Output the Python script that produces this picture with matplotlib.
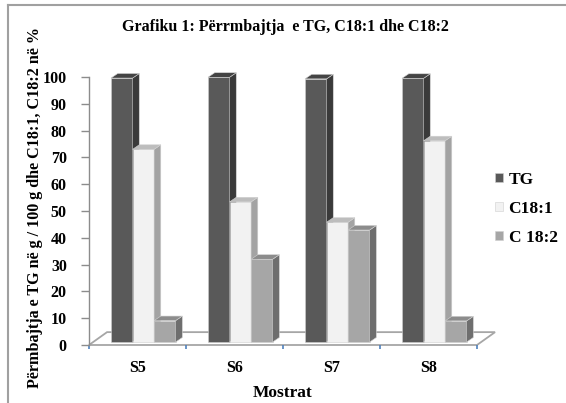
import matplotlib
matplotlib.use('Agg')
import matplotlib.pyplot as plt
from matplotlib.patches import Polygon
from matplotlib.lines import Line2D
import numpy as np

# Sample data (TG in g/100 g, fatty acids in %)
samples = ['S5', 'S6', 'S7', 'S8']
series = ['TG', 'C18:1', 'C 18:2']
tg = [99.6, 99.9, 99.3, 99.5]
c181 = [73.0, 53.4, 45.8, 76.2]
c182 = [9.1, 32.0, 42.9, 9.0]

# front / side / top shades for each series
front = ['#595959', '#f2f2f2', '#a6a6a6']
side = ['#3a3a3a', '#a3a3a3', '#6e6e6e']
top = ['#444444', '#bdbdbd', '#8c8c8c']

plt.rcParams['font.family'] = ['Liberation Serif', 'DejaVu Serif']
plt.rcParams['font.weight'] = 'bold'

W, H = 566, 403
fig = plt.figure(figsize=(W / 100, H / 100), dpi=100)
ax = fig.add_axes([89 / W, (H - 345) / H, 388 / W, 268 / H])
ax.set_xlim(-0.5, 3.5)
ax.set_ylim(0, 100)

base = 1.1
bw = 0.222
offs = [-0.162, 0.06, 0.282]
dx, dy = 0.069, 1.7   # column depth
fdx, fdy = 0.186, 4.8  # floor depth

# floor
floor = Polygon([(-0.5, 0), (-0.5 + fdx, fdy), (3.5 + fdx, fdy), (3.5, 0)],
                closed=True, facecolor='white', edgecolor='#a6a6a6', lw=1.3,
                clip_on=False, zorder=1)
ax.add_patch(floor)

x = np.arange(len(samples))
handles = []
for i in range(len(samples)):
    for j, vals in enumerate([tg, c181, c182]):
        v = vals[i]
        x0 = x[i] + offs[j] - bw / 2
        x1 = x0 + bw
        z = 3 + i * 10 + j * 3
        b = ax.bar(x[i] + offs[j], v - base, bw, bottom=base, color=front[j],
                   edgecolor='#d0d0d0', lw=0.4, zorder=z)
        if i == 0:
            handles.append(b)
        ax.add_patch(Polygon([(x1, base), (x1 + dx, base + dy), (x1 + dx, v + dy), (x1, v)],
                             closed=True, facecolor=side[j], edgecolor='#d0d0d0',
                             lw=0.4, zorder=z + 1, clip_on=False))
        ax.add_patch(Polygon([(x0, v), (x0 + dx, v + dy), (x1 + dx, v + dy), (x1, v)],
                             closed=True, facecolor=top[j], edgecolor='#d0d0d0',
                             lw=0.4, zorder=z + 2, clip_on=False))

for s in ['top', 'right', 'bottom']:
    ax.spines[s].set_visible(False)
ax.spines['left'].set_color('#8c8c8c')
ax.spines['left'].set_linewidth(1.0)

ax.set_yticks(np.arange(0, 101, 10))
ax.tick_params(axis='y', colors='#8c8c8c', length=6, width=1, pad=10,
               labelsize=11.5, labelcolor='black')

# category boundaries get the tick marks, centres get the labels
ax.set_xticks(np.arange(-0.5, 3.6, 1))
ax.set_xticklabels([])
ax.tick_params(axis='x', which='major', colors='#4f81bd', length=3, width=1.2)
ax.set_xticks(x, minor=True)
ax.set_xticklabels(samples, minor=True)
ax.tick_params(axis='x', which='minor', length=0, pad=11, labelsize=11.5)

ax.set_xlabel('Mostrat', fontsize=12.5, fontweight='bold', labelpad=6)

fig.text(35 / W, 1 - 207 / H, 'Përmbajtja e TG në g / 100 g dhe C18:1, C18:2 në %',
         rotation=90, ha='center', va='center', fontsize=11.6, fontweight='bold')
fig.text(285 / W, 1 - 27 / H, 'Grafiku 1: Përrmbajtja  e TG, C18:1 dhe C18:2',
         ha='center', va='center', fontsize=11.5, fontweight='bold')

fig.legend([h.patches[0] for h in handles], series, loc='upper left',
           bbox_to_anchor=(479 / W, 1 - 156 / H), frameon=False,
           handlelength=0.5, handleheight=0.5, handletextpad=0.3,
           labelspacing=0.75, prop={'size': 12.5, 'weight': 'bold'})

# chart border
fig.add_artist(Line2D([8 / W, 1], [1 - 5 / H, 1 - 5 / H], color='#a0a0a0', lw=1.5))
fig.add_artist(Line2D([8 / W, 8 / W], [0, 1 - 5 / H], color='#a0a0a0', lw=1.5))

fig.savefig('out.png', dpi=100)
